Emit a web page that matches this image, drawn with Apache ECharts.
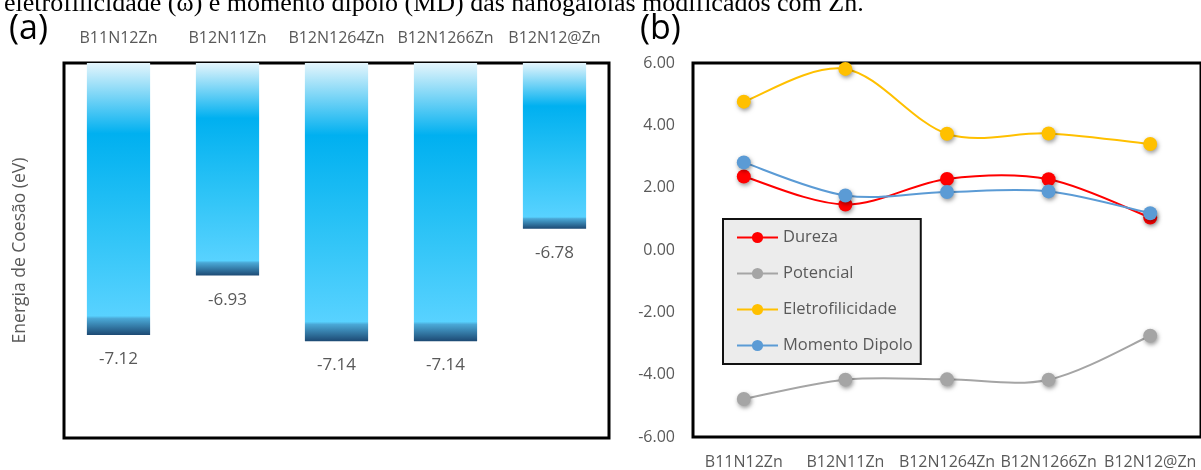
<!DOCTYPE html>
<html>
<head>
<meta charset="utf-8">
<script src="https://cdn.jsdelivr.net/npm/echarts@6/dist/echarts.min.js"></script>
<style>
html,body{margin:0;padding:0;background:#fff;}
#main{width:1201px;height:470px;}
</style>
</head>
<body>
<div id="main"></div>
<script>
const categories = ['B11N12Zn', 'B12N11Zn', 'B12N1264Zn', 'B12N1266Zn', 'B12N12@Zn'];
const cohesion = [-7.12, -6.93, -7.14, -7.14, -6.78];
const dureza = [2.36, 1.46, 2.28, 2.27, 1.04];
const potencial = [-4.78, -4.16, -4.15, -4.16, -2.75];
const eletrofilicidade = [4.76, 5.81, 3.73, 3.74, 3.40];
const dipolo = [2.81, 1.75, 1.86, 1.88, 1.18];
const seriesNames = ['Dureza', 'Potencial', 'Eletrofilicidade', 'Momento Dipolo'];
const seriesColors = ['#ff0000', '#a5a5a5', '#ffc000', '#5b9bd5'];
const caption = 'eletrofilicidade (\u03c9) e momento dipolo (MD) das nanogaiolas modificados com Zn.';

const FONT = '"Open Sans", "Noto Sans", sans-serif';
const TXT = '#595959';

const chart = echarts.init(document.getElementById('main'), null, {renderer: 'canvas'});

const barGradient = new echarts.graphic.LinearGradient(0, 0, 0, 1, [
  {offset: 0, color: '#e4f5fc'},
  {offset: 0.26, color: '#00b0f0'},
  {offset: 0.6, color: '#2cc3f6'},
  {offset: 0.93, color: '#58d2ff'},
  {offset: 0.94, color: '#4aa8d6'},
  {offset: 1, color: '#1d4a74'}
]);

const lineData = [dureza, potencial, eletrofilicidade, dipolo];

// Excel-like smoothed curve (Catmull-Rom through the axis-mapped points)
function curveSeries(d, color, idx) {
  return {
    name: seriesNames[idx] + ' curve',
    type: 'custom',
    coordinateSystem: 'cartesian2d',
    xAxisIndex: 1,
    yAxisIndex: 1,
    data: d.map((v, i) => [i, v]),
    encode: {x: 0, y: 1},
    z: 2,
    silent: true,
    renderItem: function (params, api) {
      if (params.dataIndex !== 0) return null;
      const pts = d.map((v, i) => api.coord([i, v]));
      const children = [];
      for (let i = 0; i < pts.length - 1; i++) {
        const p0 = pts[Math.max(0, i - 1)];
        const p1 = pts[i];
        const p2 = pts[i + 1];
        const p3 = pts[Math.min(pts.length - 1, i + 2)];
        children.push({
          type: 'bezierCurve',
          shape: {
            x1: p1[0], y1: p1[1], x2: p2[0], y2: p2[1],
            cpx1: p1[0] + (p2[0] - p0[0]) / 6, cpy1: p1[1] + (p2[1] - p0[1]) / 6,
            cpx2: p2[0] - (p3[0] - p1[0]) / 6, cpy2: p2[1] - (p3[1] - p1[1]) / 6
          },
          style: {stroke: color, lineWidth: 2, fill: null}
        });
      }
      return {type: 'group', children: children};
    }
  };
}

const lineSeries = lineData.map((d, i) => ({
  name: seriesNames[i],
  type: 'line',
  xAxisIndex: 1,
  yAxisIndex: 1,
  data: d,
  symbol: 'circle',
  symbolSize: 14,
  z: 3,
  lineStyle: {color: seriesColors[i], width: 2, opacity: 0},
  itemStyle: {
    color: seriesColors[i],
    shadowBlur: 4,
    shadowColor: 'rgba(0,0,0,0.4)',
    shadowOffsetX: 1,
    shadowOffsetY: 2
  },
  emphasis: {disabled: true}
}));

const curves = lineData.map((d, i) => curveSeries(d, seriesColors[i], i));

const option = {
  animation: false,
  textStyle: {fontFamily: FONT},
  graphic: [
    {type: 'text', x: 4, y: -9, style: {text: caption, font: '26px "Liberation Serif", "DejaVu Serif", serif', fill: '#000'}},
    {type: 'text', left: 9, top: 12, style: {text: '(a)', font: '34px ' + FONT, fill: '#000'}},
    {type: 'text', left: 640, top: 12, style: {text: '(b)', font: '34px ' + FONT, fill: '#000'}}
  ],
  grid: [
    {left: 64, top: 63, width: 545, height: 375, show: true, borderColor: '#000', borderWidth: 3, backgroundColor: 'transparent'},
    {left: 693, top: 63, width: 508, height: 375, show: true, borderColor: '#000', borderWidth: 3, backgroundColor: 'transparent'}
  ],
  legend: {
    data: seriesNames,
    orient: 'vertical',
    left: 723,
    top: 219,
    itemWidth: 41,
    itemHeight: 14,
    itemGap: 19,
    padding: [10, 8, 10, 13],
    backgroundColor: '#ececec',
    borderColor: '#111',
    borderWidth: 2,
    lineStyle: {opacity: 1, width: 2},
    textStyle: {fontFamily: FONT, fontSize: 16.5, color: TXT},
    selectedMode: false
  },
  xAxis: [
    {
      type: 'category', gridIndex: 0, position: 'top', data: categories,
      axisLine: {show: false}, axisTick: {show: false},
      axisLabel: {interval: 0, fontSize: 16, color: TXT, margin: 17, fontFamily: FONT}
    },
    {
      type: 'category', gridIndex: 1, position: 'bottom', data: categories,
      axisLine: {show: false}, axisTick: {show: false},
      axisLabel: {interval: 0, fontSize: 16, color: TXT, margin: 17, fontFamily: FONT}
    }
  ],
  yAxis: [
    {
      type: 'value', gridIndex: 0, min: -7.45, max: -6.25,
      axisLine: {show: false}, axisTick: {show: false}, axisLabel: {show: false}, splitLine: {show: false},
      name: 'Energia de Coes\u00e3o (eV)', nameLocation: 'middle', nameGap: 35, nameRotate: 90,
      nameTextStyle: {fontSize: 17.5, color: TXT, fontFamily: FONT}
    },
    {
      type: 'value', gridIndex: 1, min: -6, max: 6, interval: 2,
      axisLine: {show: false}, axisTick: {show: false}, splitLine: {show: false},
      axisLabel: {fontSize: 16, color: TXT, margin: 18, fontFamily: FONT, formatter: v => v.toFixed(2)}
    }
  ],
  series: [
    {
      name: 'Energia de Coesão',
      type: 'bar',
      xAxisIndex: 0,
      yAxisIndex: 0,
      data: cohesion,
      barWidth: '58%',
      clip: true,
      itemStyle: {color: barGradient},
      label: {
        show: true, position: 'bottom', distance: 16,
        fontSize: 17, color: TXT, fontFamily: FONT,
        formatter: p => p.value.toFixed(2)
      },
      emphasis: {disabled: true}
    }
  ].concat(curves).concat(lineSeries)
};

chart.setOption(option);
</script>
</body>
</html>
